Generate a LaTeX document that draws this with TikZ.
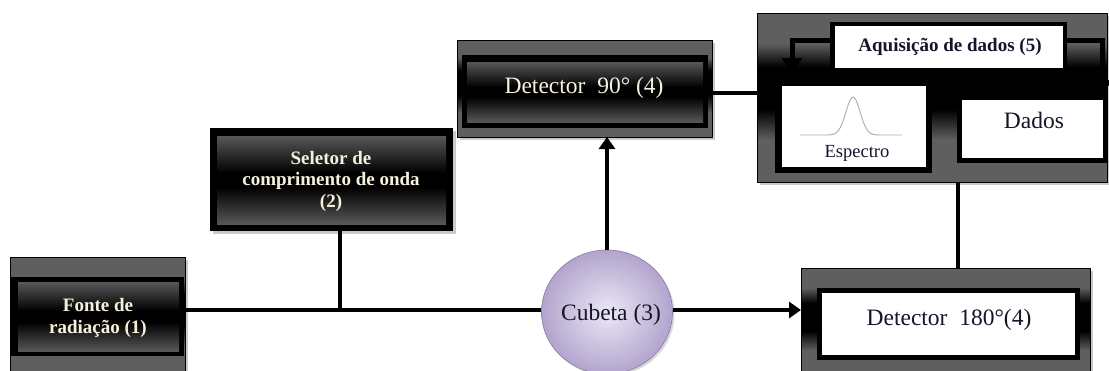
\documentclass[tikz,border=0pt]{standalone}
\usepackage{fontspec}
\setmainfont{Liberation Serif}
\usetikzlibrary{arrows.meta,shadows,shapes.geometric}
\definecolor{bandgray}{HTML}{5F5F5F}
\definecolor{innergray}{HTML}{575757}
\definecolor{lighttext}{HTML}{F6F1DC}
\definecolor{darktext}{HTML}{15152A}
\definecolor{lavin}{HTML}{ECE8F4}
\definecolor{lavout}{HTML}{B2A4CE}
\definecolor{lavedge}{HTML}{8A7BAA}
\pgfdeclareverticalshading{band}{100bp}{color(0bp)=(bandgray); color(37.5bp)=(bandgray); color(46.5bp)=(black); color(59bp)=(black); color(66bp)=(bandgray); color(100bp)=(bandgray)}
\pgfdeclareverticalshading{innerband}{100bp}{color(0bp)=(innergray); color(25bp)=(innergray); color(46bp)=(black); color(54bp)=(black); color(75bp)=(innergray); color(100bp)=(innergray)}
\tikzset{
  box/.style={rectangle, inner sep=0pt, outer sep=0pt, anchor=north west},
  shadowed/.style={drop shadow={shadow xshift=3pt, shadow yshift=-3pt, fill=gray!70, opacity=0.6}},
  outerbox/.style={box, draw=black, line width=1pt, shading=band, shadowed},
  framebox/.style={box, fill=black},
  darkin/.style={box, shading=innerband},
  whitein/.style={box, fill=white},
  boldtxt/.style={font=\fontsize{19}{21.5}\selectfont\bfseries, inner sep=0pt, align=center},
  regtxt/.style={font=\fontsize{23.5}{26}\selectfont, inner sep=0pt, anchor=base, text=darktext},
  conn/.style={line width=4pt},
  arr/.style={line width=4pt, -{Triangle[width=16pt,length=12pt]}},
  bigarr/.style={line width=5pt, -{Triangle[width=20pt,length=15pt]}},
}
\begin{document}
\begin{tikzpicture}[x=1pt,y=-1pt]
\path[use as bounding box] (0,0) rectangle (1109,370);
\clip (0,0) rectangle (1109,370);

% Fonte de radiacao
\node[outerbox, minimum width=175pt, minimum height=120pt] (fonteO) at (10,257) {};
\node[framebox, minimum width=173pt, minimum height=79pt] (fonteF) at (11,277) {};
\node[darkin, minimum width=161pt, minimum height=69pt] (fonteI) at (18,282) {};
\node[boldtxt, text=lighttext] (fonteT) at (98,318) {Fonte de\\radiação (1)};

% Seletor
\node[framebox, shadowed, minimum width=243pt, minimum height=103pt] (selF) at (210,128) {};
\node[darkin, minimum width=229pt, minimum height=88pt] (selI) at (217,136) {};
\node[boldtxt, text=lighttext] (selT) at (331,181) {Seletor de\\comprimento de onda\\(2)};

% Detector 90
\node[outerbox, minimum width=255pt, minimum height=97pt] (d90O) at (457,40) {};
\node[framebox, minimum width=246pt, minimum height=73pt] (d90F) at (462,55) {};
\node[darkin, minimum width=236pt, minimum height=60pt] (d90I) at (467,62) {};
\node[regtxt, text=lighttext] (d90T) at (584,93) {Detector\ \ 90° (4)};

% Aquisicao de dados
\node[outerbox, minimum width=350pt, minimum height=169pt] (aqO) at (757,13) {};
\node[framebox, minimum width=237pt, minimum height=50pt] (titF) at (830,22) {};
\node[whitein, minimum width=228pt, minimum height=42pt] (titW) at (835,26) {};
\node[boldtxt, anchor=base, text=darktext] (titT) at (950,51) {Aquisição de dados (5)};
\node[framebox, minimum width=157pt, minimum height=93pt] (espF) at (775,80) {};
\node[whitein, minimum width=144pt, minimum height=81pt] (espW) at (782,86) {};
\draw[gray!65, line width=0.9pt] plot[smooth, domain=800:902, samples=80] (\x,{135-38*exp(-((\x-853)/10)^2)});
\node[regtxt, font=\fontsize{18.5}{20}\selectfont] (espT) at (857,157) {Espectro};
\node[framebox, minimum width=151pt, minimum height=68pt] (dadF) at (957,95) {};
\node[whitein, minimum width=141pt, minimum height=58pt] (dadW) at (962,100) {};
\node[regtxt] (dadT) at (1034,128) {Dados};
\draw[bigarr] ([yshift=7pt]titF.west) -| ([xshift=17pt,yshift=7pt]espF.north west);
\draw[bigarr] ([yshift=7pt]titF.east) -| ([xshift=-6pt]dadF.north east);

% Detector 180
\node[outerbox, minimum width=289pt, minimum height=110pt] (d180O) at (801,268) {};
\node[framebox, minimum width=263pt, minimum height=72pt] (d180F) at (817,288) {};
\node[whitein, minimum width=253pt, minimum height=62pt] (d180W) at (822,293) {};
\node[regtxt] (d180T) at (949,325) {Detector\ \ 180°(4)};

% Cubeta
\node[ellipse, minimum width=131pt, minimum height=124pt, inner sep=0pt, draw=lavedge, line width=0.6pt, inner color=lavin, outer color=lavout, drop shadow={shadow xshift=2pt, shadow yshift=-2pt, fill=gray!60, opacity=0.5}] (cub) at (607,312) {};
\node[regtxt] (cubT) at (611,320) {Cubeta (3)};

% connectors
\coordinate (jn) at (340,310);
\coordinate (vx) at (958,200);
\draw[conn] (fonteO.east |- jn) -- (jn -| cub.west);
\draw[conn] (selF.south -| jn) -- (jn);
\draw[arr] (cub.north) -- (cub.north |- d90O.south);
\draw[conn] ([yshift=-4pt]d90O.east) -- ([yshift=-4pt]d90O.east -| aqO.west);
\draw[arr] (cub.east |- jn) -- (jn -| d180O.west);
\draw[conn] (aqO.south -| vx) -- (d180O.north -| vx);
\end{tikzpicture}
\end{document}
